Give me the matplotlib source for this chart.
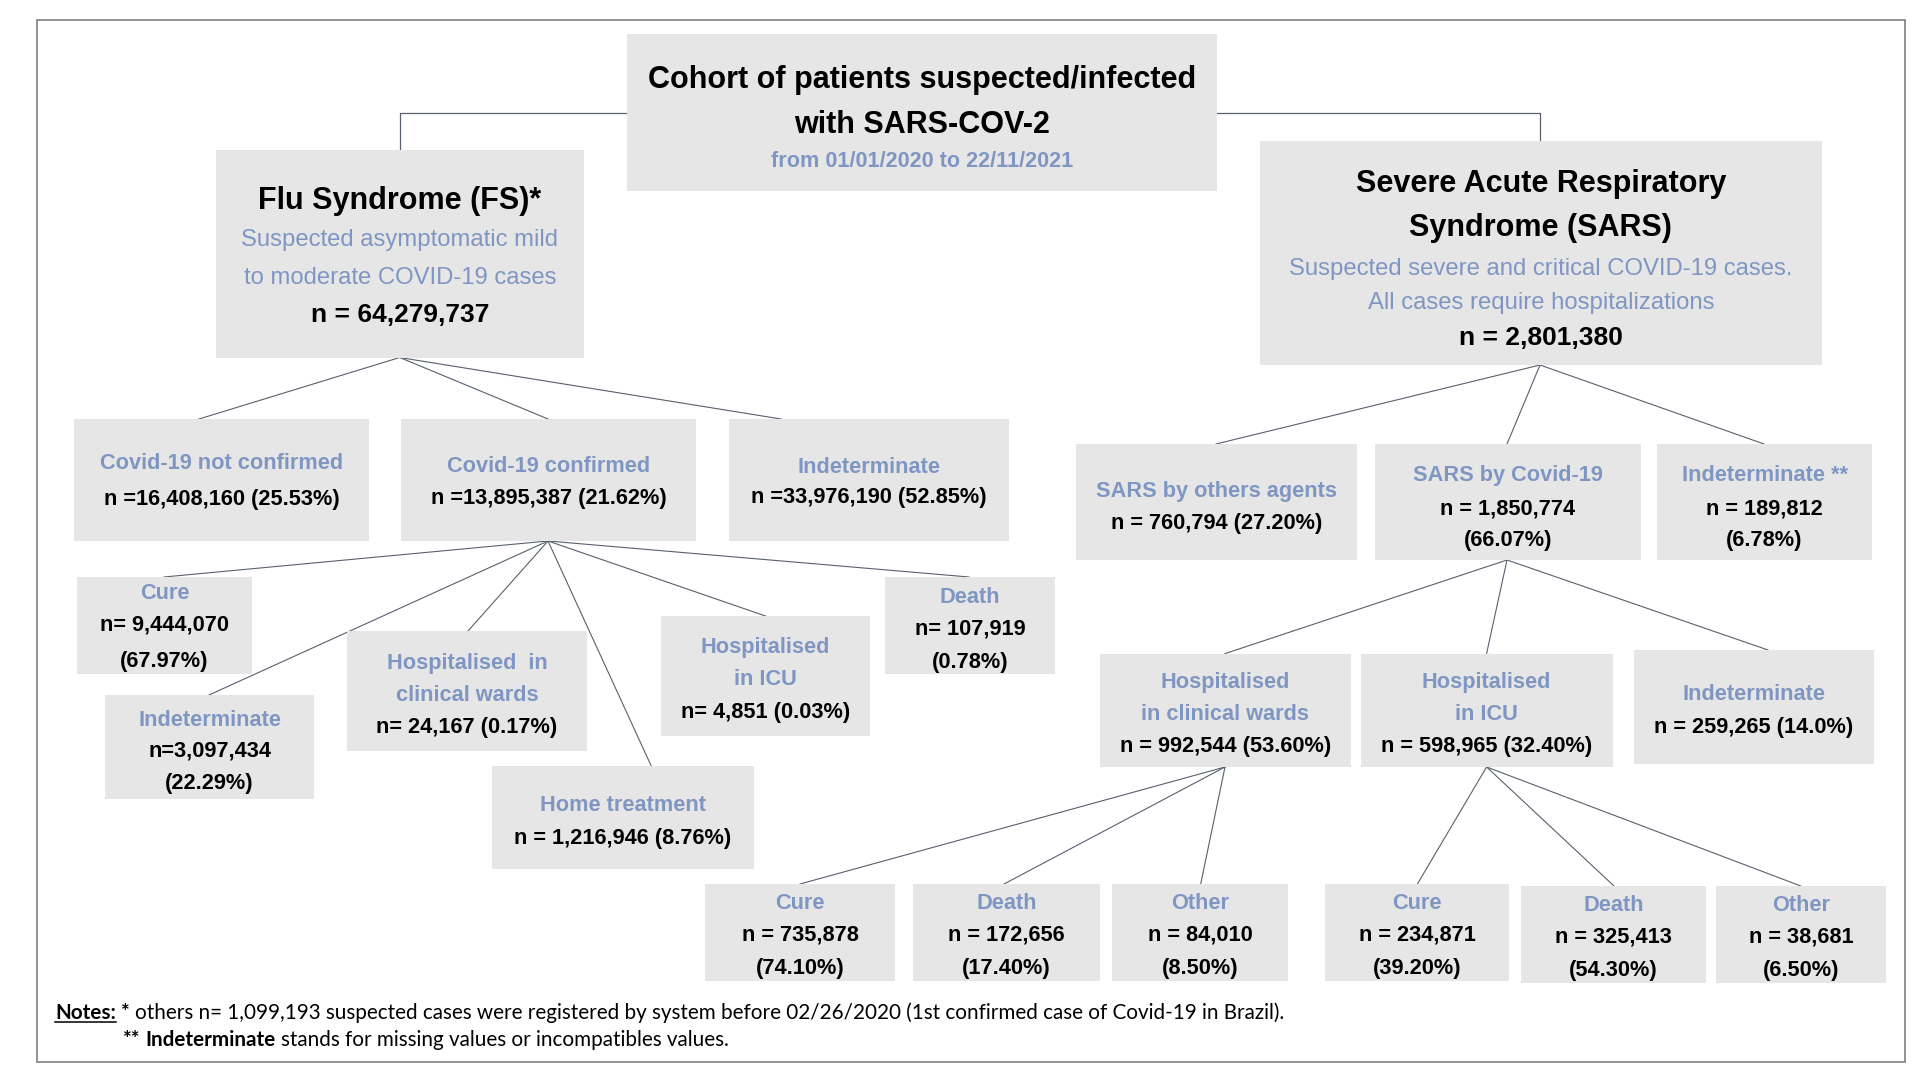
import matplotlib
matplotlib.use("Agg")
import matplotlib.pyplot as plt
from matplotlib.patches import Rectangle

# ------------------------------------------------------------------ data
root_lines = ["Cohort of patients suspected/infected", "with SARS-COV-2"]
root_period = "from 01/01/2020 to 22/11/2021"

fs_title = ["Flu Syndrome (FS)*"]
fs_desc = ["Suspected asymptomatic mild", "to moderate COVID-19 cases"]
fs_total = ["n = 64,279,737"]

sars_title = ["Severe Acute Respiratory", "Syndrome (SARS)"]
sars_desc = ["Suspected severe and critical COVID-19 cases.", "All cases require hospitalizations"]
sars_total = ["n = 2,801,380"]

fs_groups = [["Covid-19 not confirmed"], ["Covid-19 confirmed"], ["Indeterminate"]]
fs_group_counts = [["n =16,408,160 (25.53%)"], ["n =13,895,387 (21.62%)"], ["n =33,976,190 (52.85%)"]]

fs_outcomes = [["Cure"], ["Indeterminate"], ["Hospitalised  in", "clinical wards"],
               ["Home treatment"], ["Hospitalised", "in ICU"], ["Death"]]
fs_outcome_counts = [["n= 9,444,070", "(67.97%)"], ["n=3,097,434", "(22.29%)"], ["n= 24,167 (0.17%)"],
                     ["n = 1,216,946 (8.76%)"], ["n= 4,851 (0.03%)"], ["n= 107,919", "(0.78%)"]]

sars_groups = [["SARS by others agents"], ["SARS by Covid-19"], ["Indeterminate **"]]
sars_group_counts = [["n = 760,794 (27.20%)"], ["n = 1,850,774", "(66.07%)"], ["n = 189,812", "(6.78%)"]]

sars_settings = [["Hospitalised", "in clinical wards"], ["Hospitalised", "in ICU"], ["Indeterminate"]]
sars_setting_counts = [["n = 992,544 (53.60%)"], ["n = 598,965 (32.40%)"], ["n = 259,265 (14.0%)"]]

ward_outcomes = [["Cure"], ["Death"], ["Other"]]
ward_counts = [["n = 735,878", "(74.10%)"], ["n = 172,656", "(17.40%)"], ["n = 84,010", "(8.50%)"]]
icu_outcomes = [["Cure"], ["Death"], ["Other"]]
icu_counts = [["n = 234,871", "(39.20%)"], ["n = 325,413", "(54.30%)"], ["n = 38,681", "(6.50%)"]]

note1_parts = [("Notes:", "bold", True), ("*", "bold", False),
               ("others n= 1,099,193 suspected cases were registered by system before 02/26/2020 "
                "(1st confirmed case of Covid-19 in Brazil).", "normal", False)]
note2_parts = [("**", "bold", False), ("Indeterminate", "bold", False),
               ("stands for missing values or incompatibles values.", "normal", False)]

# ------------------------------------------------------------------ style / layout (pixels)
FONT = ["Liberation Sans", "DejaVu Sans"]
NOTE_FONT = ["Lato", "DejaVu Sans"]
BLUE = "#7f96c3"
FILL = "#e6e6e6"
LINE = "#58606e"
SMALL = 15.7

fig = plt.figure(figsize=(19.2, 10.8), dpi=100)
ax = fig.add_axes([0, 0, 1, 1])
ax.set_xlim(0, 1920)
ax.set_ylim(1080, 0)
ax.axis("off")

# outer frame
ax.add_patch(Rectangle((37, 20), 1905 - 37, 1062 - 20, fill=False, ec="#7f7f7f", lw=1.2))

boxes = {
    "root": (627, 34, 1217, 191),
    "fs": (215.5, 149.5, 584, 357.5),
    "sars": (1260, 140.5, 1821.6, 365),
    "g0": (74, 419, 369, 541), "g1": (401, 419, 696, 541), "g2": (729, 419, 1009, 541),
    "s0": (1076, 444, 1357, 560), "s1": (1374.6, 444, 1641, 560), "s2": (1657, 444, 1872, 560),
    "o0": (77, 577, 252, 674), "o1": (105, 695, 314, 799), "o2": (347, 631, 587, 751),
    "o3": (492, 765.5, 754, 869), "o4": (661, 616, 870, 736), "o5": (885, 577, 1055, 674),
    "h0": (1099.6, 653.6, 1350.7, 767), "h1": (1360.5, 653.6, 1612.8, 767), "h2": (1634, 650, 1873.6, 764),
    "w0": (705, 884, 895, 981), "w1": (913, 884, 1100, 981), "w2": (1112, 884, 1288, 981),
    "i0": (1325, 884, 1509, 981), "i1": (1521, 886, 1706, 983), "i2": (1716, 886, 1886, 983),
}
baselines = {
    "g0": [469, 505], "g1": [472, 504], "g2": [473, 503],
    "s0": [497, 529], "s1": [481, 514, 546], "s2": [481, 514, 546],
    "o0": [599, 631, 667], "o1": [726, 757, 789], "o2": [669, 701, 733],
    "o3": [811, 844], "o4": [653, 685, 718], "o5": [603, 635, 668],
    "h0": [688, 720, 752], "h1": [688, 720, 752], "h2": [700, 733],
    "w0": [909, 941, 974], "w1": [909, 941, 974], "w2": [909, 941, 974],
    "i0": [909, 941, 974], "i1": [911, 943, 976], "i2": [911, 943, 976],
}

# edges: parent, parent bottom x, child, child top x
edges = [
    ("fs", 399.7, "g0", 199), ("fs", 399.7, "g1", 548), ("fs", 399.7, "g2", 781),
    ("sars", 1540, "s0", 1216), ("sars", 1540, "s1", 1507), ("sars", 1540, "s2", 1764),
    ("g1", 548, "o0", 164), ("g1", 548, "o1", 209), ("g1", 548, "o2", 468),
    ("g1", 548, "o3", 651), ("g1", 548, "o4", 765.5), ("g1", 548, "o5", 969),
    ("s1", 1507, "h0", 1225), ("s1", 1507, "h1", 1486.6), ("s1", 1507, "h2", 1768),
    ("h0", 1225, "w0", 800), ("h0", 1225, "w1", 1004), ("h0", 1225, "w2", 1200.7),
    ("h1", 1486.6, "i0", 1417.4), ("h1", 1486.6, "i1", 1614), ("h1", 1486.6, "i2", 1800.8),
]

# root elbow connectors
fs_cx = 399.7
sars_cx = 1540
ax.plot([boxes["root"][0], fs_cx, fs_cx], [113, 113, boxes["fs"][1]], color=LINE, lw=0.9, zorder=1)
ax.plot([boxes["root"][2], sars_cx, sars_cx], [113, 113, boxes["sars"][1]], color=LINE, lw=0.9, zorder=1)

for p, px, c, cx in edges:
    ax.plot([px, cx], [boxes[p][3], boxes[c][1]], color=LINE, lw=0.8, zorder=1)

for k, (x0, y0, x1, y1) in boxes.items():
    ax.add_patch(Rectangle((x0, y0), x1 - x0, y1 - y0, fc=FILL, ec="none", zorder=2))


def cx_of(k):
    return (boxes[k][0] + boxes[k][2]) / 2


def put(k, y, s, size, color, weight="bold"):
    ax.text(cx_of(k), y, s, ha="center", va="baseline", fontsize=size, color=color,
            fontweight=weight, family=FONT, zorder=3)


# root box
put("root", 88, root_lines[0], 22, "black")
put("root", 133, root_lines[1], 22, "black")
put("root", 167, root_period, 15.6, BLUE)

# FS box
put("fs", 209, fs_title[0], 22, "black")
put("fs", 246, fs_desc[0], 17.2, BLUE, "normal")
put("fs", 284, fs_desc[1], 17.2, BLUE, "normal")
put("fs", 322, fs_total[0], 19, "black")

# SARS box
put("sars", 192, sars_title[0], 22, "black")
put("sars", 236, sars_title[1], 22, "black")
put("sars", 274.5, sars_desc[0], 17.2, BLUE, "normal")
put("sars", 308.5, sars_desc[1], 17.2, BLUE, "normal")
put("sars", 345, sars_total[0], 19, "black")


def fill_nodes(keys, labels, counts):
    for k, lab, cnt in zip(keys, labels, counts):
        ys = baselines[k]
        lines = [(t, BLUE) for t in lab] + [(t, "black") for t in cnt]
        for y, (t, col) in zip(ys, lines):
            put(k, y, t, SMALL, col)


fill_nodes(["g0", "g1", "g2"], fs_groups, fs_group_counts)
fill_nodes(["o0", "o1", "o2", "o3", "o4", "o5"], fs_outcomes, fs_outcome_counts)
fill_nodes(["s0", "s1", "s2"], sars_groups, sars_group_counts)
fill_nodes(["h0", "h1", "h2"], sars_settings, sars_setting_counts)
fill_nodes(["w0", "w1", "w2"], ward_outcomes, ward_counts)
fill_nodes(["i0", "i1", "i2"], icu_outcomes, icu_counts)

# notes
renderer = fig.canvas.get_renderer()


def width_of(s, size, weight):
    t = ax.text(0, 0, s, fontsize=size, fontweight=weight, family=NOTE_FONT)
    w = t.get_window_extent(renderer).width
    t.remove()
    return w


def line_width(parts, size):
    sp = width_of("x x", size, "normal") - width_of("xx", size, "normal")
    return sum(width_of(s, size, w) for s, w, _ in parts) + sp * (len(parts) - 1), sp


base = 14.0
w0, _ = line_width(note1_parts, base)
note_size = base * (1284 - 55) / w0


def draw_parts(parts, x, y, size):
    sp = width_of("x x", size, "normal") - width_of("xx", size, "normal")
    for s, wgt, und in parts:
        ax.text(x, y, s, ha="left", va="baseline", fontsize=size, fontweight=wgt,
                family=NOTE_FONT, color="black", zorder=3)
        w = width_of(s, size, wgt)
        if und:
            ax.plot([x, x + w], [y + 3, y + 3], color="black", lw=1.1)
        x += w + sp


draw_parts(note1_parts, 55, 1019, note_size)
draw_parts(note2_parts, 122.5, 1046, note_size)

fig.savefig("out.png", dpi=100, facecolor="white")
